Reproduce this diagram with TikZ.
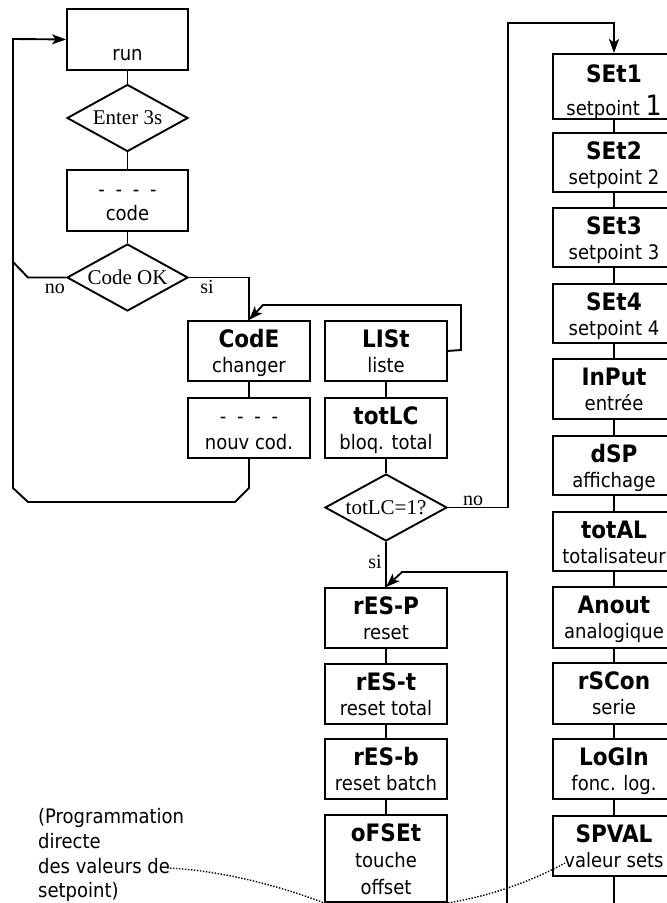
\documentclass[tikz,border=0pt]{standalone}
\usepackage{fontspec}
\setmainfont{Liberation Serif}
\newfontfamily\bxf{DejaVu Sans Condensed}
\usetikzlibrary{arrows.meta,shapes.geometric}
\tikzset{
 ln/.style={line width=1.9pt, line join=miter},
 boxs/.style={draw, line width=1.9pt, rectangle, inner sep=0pt, minimum width=122pt, minimum height=60pt, anchor=north},
 dia/.style={draw, line width=1.9pt, diamond, aspect=1.8, inner sep=0pt, minimum width=121pt, minimum height=67pt, font=\fontsize{21}{21}\selectfont},
 ttl/.style={font=\bxf\bfseries\fontsize{24}{24}\selectfont, inner sep=0pt, anchor=base},
 sub/.style={font=\bxf\fontsize{20}{20}\selectfont, inner sep=0pt, anchor=base},
 ann/.style={font=\bxf\fontsize{20}{20}\selectfont, inner sep=0pt, anchor=base west},
 lbl/.style={font=\fontsize{20}{20}\selectfont, inner sep=0pt, anchor=base},
 arr/.style={ln, -{Stealth[length=14pt,width=10pt,inset=3.5pt]}},
 dots/.style={line width=1.4pt, dash pattern=on 1.4pt off 1.6pt}
}
\newcommand\bx[6]{%
  \node[boxs, minimum height=#4pt] (#1) at (#2,#3) {};
  \node[ttl] (#1t) at (#2,#3+27) {#5};
  \node[sub] (#1s) at (#2,#3+52) {#6};
}
\newcommand\dsh{-\hspace{10.8pt}-\hspace{10.8pt}-\hspace{10.8pt}-}
\begin{document}
\begin{tikzpicture}[x=1pt,y=-1pt]
\useasboundingbox (0,0) rectangle (667,903);
\clip (0,0) rectangle (667,903);
% left column
\node[boxs, minimum width=121pt, minimum height=61pt] (run) at (127.5,8) {};
\node[sub] (runs) at (127.5,60) {run};
\node[dia] (ent) at (127.5,118) {Enter 3s};
\node[boxs, minimum width=121pt, minimum height=61pt] (cod) at (127.5,169) {};
\node[sub] (codt) at (127.5,196) {\dsh};
\node[sub] (cods) at (127.5,220) {code};
\node[dia] (cok) at (127.5,277.5) {Code OK};
% second column
\bx{chg}{249}{320}{60}{CodE}{changer}
\node[boxs, minimum height=60pt] (nv) at (249,397) {};
\node[sub] (nvt) at (249,423) {\dsh};
\node[sub] (nvs) at (249,449) {nouv cod.};
% third column
\bx{lst}{386}{320}{60}{LISt}{liste}
\bx{tl}{386}{397}{60}{totLC}{bloq. total}
\node[dia, minimum width=122pt] (tq) at (386,507.5) {totLC=1?};
\bx{rp}{386}{587}{60}{rES-P}{reset}
\bx{rt}{386}{663}{60}{rES-t}{reset total}
\bx{rb}{386}{738}{60}{rES-b}{reset batch}
\node[boxs, minimum height=87pt] (of) at (386,814) {};
\node[ttl] (oft) at (386,841) {oFSEt};
\node[sub] (ofs1) at (386,867) {touche};
\node[sub] (ofs2) at (386,894) {offset};
% right column
\node[boxs, minimum height=65pt] (s1) at (614,53) {};
\node[ttl] (s1t) at (614,82) {SEt1};
\node[sub] (s1s) at (614,115) {setpoint {\fontsize{28}{28}\selectfont 1}};
\bx{s2}{614}{132}{59}{SEt2}{setpoint 2}
\bx{s3}{614}{207}{59}{SEt3}{setpoint 3}
\bx{s4}{614}{283}{59}{SEt4}{setpoint 4}
\bx{inp}{614}{358}{60}{InPut}{entrée}
\bx{dsp}{614}{435}{59}{dSP}{affichage}
\bx{tot}{614}{511}{59}{totAL}{totalisateur}
\bx{ano}{614}{586}{61}{Anout}{analogique}
\bx{rsc}{614}{662}{61}{rSCon}{serie}
\bx{lgi}{614}{738}{60}{LoGIn}{fonc. log.}
\bx{spv}{614}{815}{60}{SPVAL}{valeur sets}
% annotation
\node[ann] (an1) at (38,823) {(Programmation};
\node[ann] (an2) at (38,848) {directe};
\node[ann] (an3) at (38,873) {des valeurs de};
\node[ann] (an4) at (38,897) {setpoint)};
% connectors left
\draw[ln] (run) -- (ent);
\draw[ln] (ent) -- (cod);
\draw[ln] (cod) -- (cok);
\draw[ln] (cok.west) -- (28,277.5) -- (13,262);
\draw[ln] (cok.east) -- (249,277.5) -- (chg.north);
\draw[arr] (lst.east) -- (461,350) -- (461,305) -- (263,305) -- (chg.north);
\draw[ln] (chg) -- (nv);
\draw[arr] (nv.south) -- (249,488) -- (235,502) -- (28,502) -- (13,488) -- (13,39) -- (run.west);
\node[lbl] (lno1) at (55,293) {no};
\node[lbl] (lsi1) at (207,293) {si};
% connectors middle
\draw[ln] (lst) -- (tl);
\draw[ln] (tl) -- (tq);
\draw[arr] (tq.east) -- (508,507.5) -- (508,23) -- (614,23) -- (s1.north);
\node[lbl] (lno2) at (473,505) {no};
\draw[ln] (tq) -- (rp);
\node[lbl] (lsi2) at (375,568) {si};
\coordinate (bot1) at (507,910);
\draw[arr] (bot1) -- (507,572) -- (402,572) -- (rp.north);
\draw[ln] (rp) -- (rt);
\draw[ln] (rt) -- (rb);
\draw[ln] (rb) -- (of);
% connectors right
\foreach \a/\b in {s1/s2,s2/s3,s3/s4,s4/inp,inp/dsp,dsp/tot,tot/ano,ano/rsc,rsc/lgi,lgi/spv}
  \draw[ln] (\a) -- (\b);
\coordinate (bot2) at (614,910);
\draw[ln] (spv) -- (bot2);
% dotted
\coordinate (d1) at (167,868);
\coordinate (d2) at (565,863);
\draw[dots] (d1) .. controls (220,870) and (280,886) .. (of.south west);
\draw[dots] (of.south east) .. controls (490,896) and (530,882) .. (d2);
\end{tikzpicture}
\end{document}
